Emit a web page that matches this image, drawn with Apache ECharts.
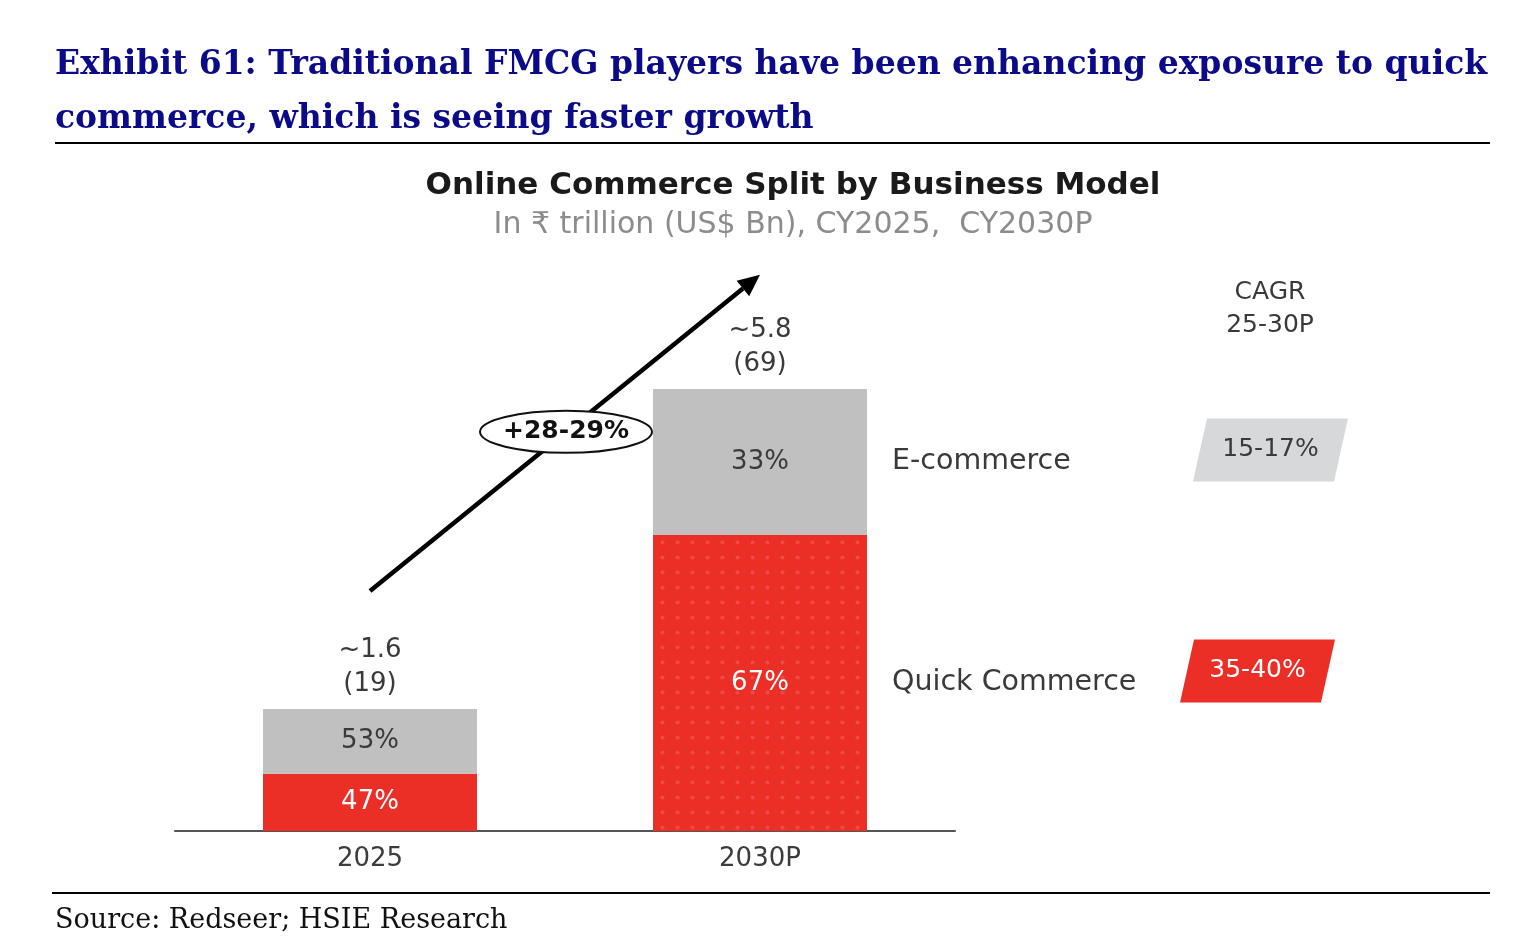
<!DOCTYPE html>
<html>
<head>
<meta charset="utf-8">
<script src="https://cdn.jsdelivr.net/npm/echarts@6/dist/echarts.min.js"></script>
<style>
  html, body { margin: 0; padding: 0; background: #fff; }
  #chart { width: 1514px; height: 940px; }
</style>
</head>
<body>
<div id="chart"></div>
<script>
// data
const categories = ['2025', '2030P'];
const totalInr = [1.6, 5.8];       // ₹ trillion
const totalUsd = [19, 69];         // US$ Bn
const quickShare = [47, 67];       // % of total
const ecomShare = [53, 33];
const segmentNames = ['Quick Commerce', 'E-commerce'];
const cagrText = ['35-40%', '15-17%'];
const growthText = '+28-29%';

const quickValues = totalInr.map((t, i) => +(t * quickShare[i] / 100).toFixed(3));
const ecomValues = totalInr.map((t, i) => +(t * ecomShare[i] / 100).toFixed(3));

const RED = '#EB2F27';
const GREY = '#C0C0C0';
const SANS = '"DejaVu Sans", sans-serif';
const SERIF = '"DejaVu Serif", serif';
const BAR_W = 214;

const chart = echarts.init(document.getElementById('chart'));

chart.setOption({
  animation: false,
  title: [
    {
      text: 'Exhibit 61: Traditional FMCG players have been enhancing exposure to quick\ncommerce, which is seeing faster growth',
      left: 50, top: 33,
      textStyle: { fontFamily: SERIF, fontWeight: 'bold', fontSize: 33, color: '#0b0b8a', lineHeight: 54 }
    },
    {
      text: 'Online Commerce Split by Business Model',
      subtext: 'In ₹ trillion (US$ Bn), CY2025,  CY2030P',
      left: 788, top: 165, textAlign: 'center', itemGap: 9,
      textStyle: { fontFamily: SANS, fontWeight: 'bold', fontSize: 31, color: '#1a1a1a' },
      subtextStyle: { fontFamily: SANS, fontSize: 30, color: '#8c8c8c' }
    },
    {
      text: 'Source: Redseer; HSIE Research',
      left: 50, top: 902,
      textStyle: { fontFamily: SERIF, fontWeight: 'normal', fontSize: 27, color: '#111' }
    }
  ],
  grid: { left: 175, width: 780, top: 259.5, bottom: 109, containLabel: false },
  xAxis: {
    type: 'category',
    data: categories,
    axisTick: { show: false },
    axisLine: { lineStyle: { color: '#555', width: 2 } },
    axisLabel: { fontFamily: SANS, fontSize: 26, color: '#3c3c3c', margin: 15 }
  },
  yAxis: { type: 'value', min: 0, max: 7.5, show: false, splitLine: { show: false } },
  series: [
    {
      name: segmentNames[0],
      type: 'bar',
      stack: 'total',
      barWidth: BAR_W,
      data: quickValues.map((v, i) => ({
        value: v,
        itemStyle: i === 1 ? {
          color: RED,
          decal: {
            symbol: 'circle', symbolSize: 0.8,
            dashArrayX: [5, 10], dashArrayY: [5, 10],
            color: 'rgba(255,255,255,0.14)'
          }
        } : { color: RED }
      })),
      label: {
        show: true, position: 'inside',
        fontFamily: SANS, fontSize: 26, color: '#fff',
        formatter: p => quickShare[p.dataIndex] + '%'
      }
    },
    {
      name: segmentNames[1],
      type: 'bar',
      stack: 'total',
      barWidth: BAR_W,
      itemStyle: { color: GREY },
      data: ecomValues,
      label: {
        show: true, position: 'inside',
        fontFamily: SANS, fontSize: 26, color: '#3a3a3a',
        formatter: p => ecomShare[p.dataIndex] + '%'
      }
    },
    {
      // totals above each bar
      name: 'total',
      type: 'bar',
      stack: 'total',
      barWidth: BAR_W,
      data: totalInr.map(() => 0),
      itemStyle: { color: 'transparent' },
      label: {
        show: true, position: 'top', distance: 8,
        fontFamily: SANS, fontSize: 26, lineHeight: 34, color: '#3a3a3a',
        formatter: p => '~' + totalInr[p.dataIndex] + '\n(' + totalUsd[p.dataIndex] + ')'
      }
    }
  ]
});

// annotations anchored to the axes
const px = (i, v) => chart.convertToPixel({ gridIndex: 0 }, [i, v]);
const graphics = [];

// growth arrow from 2025 to 2030P
const a0 = px(0, 3.15);
const a1 = px(1, 7.3);
const dx = a1[0] - a0[0], dy = a1[1] - a0[1];
const len = Math.sqrt(dx * dx + dy * dy);
const ux = dx / len, uy = dy / len;
const headL = 22, headW = 10;
const base = [a1[0] - ux * headL, a1[1] - uy * headL];
graphics.push({
  type: 'line',
  shape: { x1: a0[0], y1: a0[1], x2: base[0], y2: base[1] },
  style: { stroke: '#000', lineWidth: 4.5 }
});
graphics.push({
  type: 'polygon',
  shape: { points: [a1, [base[0] - uy * headW, base[1] + ux * headW], [base[0] + uy * headW, base[1] - ux * headW]] },
  style: { fill: '#000' }
});
const mid = [(a0[0] + a1[0]) / 2 + 1, (a0[1] + a1[1]) / 2 - 1];
graphics.push({
  type: 'ellipse',
  shape: { cx: mid[0], cy: mid[1], rx: 86, ry: 21 },
  style: { fill: '#fff', stroke: '#111', lineWidth: 2 }
});
graphics.push({
  type: 'text',
  x: mid[0], y: mid[1],
  style: { text: growthText, fontFamily: SANS, fontWeight: 'bold', fontSize: 25, fill: '#111', align: 'center', verticalAlign: 'middle' }
});

// segment names right of the 2030P bar, and CAGR tags
const barRight = px(1, 0)[0] + BAR_W / 2;
const segMid = [quickValues[1] / 2, quickValues[1] + ecomValues[1] / 2];
const tagColors = [RED, '#D7D8D9'];
const tagText = ['#fff', '#3a3a3a'];
const tagX = [1180, 1193];
segmentNames.forEach((name, k) => {
  const y = px(1, segMid[k])[1];
  graphics.push({
    type: 'text',
    x: barRight + 25, y: y,
    style: { text: name, fontFamily: SANS, fontSize: 28.5, fill: '#3a3a3a', verticalAlign: 'middle' }
  });
  const ty = y - 12, h = 63, skew = 14, w = 155, x = tagX[k];
  graphics.push({
    type: 'polygon',
    shape: { points: [[x + skew, ty - h / 2], [x + w, ty - h / 2], [x + w - skew, ty + h / 2], [x, ty + h / 2]] },
    style: { fill: tagColors[k] }
  });
  graphics.push({
    type: 'text',
    x: x + w / 2, y: ty,
    style: { text: cagrText[k], fontFamily: SANS, fontSize: 25, fill: tagText[k], align: 'center', verticalAlign: 'middle' }
  });
});

graphics.push({
  type: 'text',
  x: 1270, y: 309,
  style: { text: 'CAGR\n25-30P', fontFamily: SANS, fontSize: 25, lineHeight: 33, fill: '#3a3a3a', align: 'center', verticalAlign: 'middle' }
});

// rules under the header and above the source
graphics.push({ type: 'line', shape: { x1: 55, y1: 143, x2: 1490, y2: 143 }, style: { stroke: '#000', lineWidth: 2 } });
graphics.push({ type: 'line', shape: { x1: 52, y1: 893, x2: 1490, y2: 893 }, style: { stroke: '#000', lineWidth: 2 } });

chart.setOption({ graphic: graphics });
</script>
</body>
</html>
